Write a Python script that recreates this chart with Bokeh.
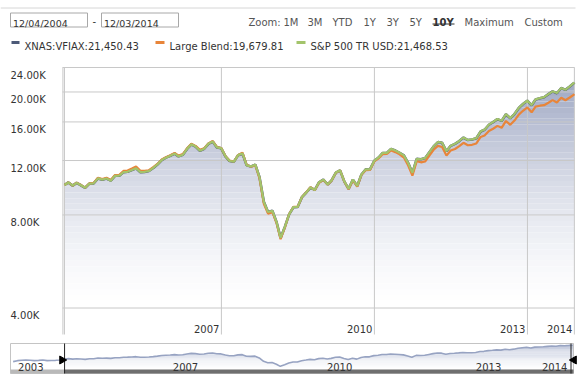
import numpy as np
import pandas as pd
from bokeh.plotting import figure
from bokeh.models import Range1d, LinearScale, LogScale
from bokeh.embed import file_html
from bokeh.resources import INLINE
from bokeh.core.properties import value

FONT = "DejaVu Sans"

# ---------------- data ----------------
start_date = "2004-12-03"
end_date = "2014-12-03"
month_ends = list(pd.date_range("2004-12-31", periods=120, freq=pd.offsets.MonthEnd()))
dates = [pd.Timestamp(start_date)] + month_ends + [pd.Timestamp(end_date)]

vfiax = [
    10000, 10192,
    9952, 10157, 9981, 9796, 10108, 10123, 10506, 10406, 10497, 10328, 10710, 10718,
    11011, 11034, 11176, 11332, 11001, 11021, 11096, 11352, 11651, 12039, 12258, 12434,
    12631, 12376, 12521, 13086, 13536, 13317, 12913, 13103, 13595, 13821, 13235, 13144,
    12361, 11953, 11901, 12490, 12644, 11577, 11484, 11643, 10604, 8823, 8177, 8255,
    7562, 6742, 7331, 8033, 8474, 8490, 9136, 9458, 9813, 9636, 10206, 10406,
    10038, 10342, 10970, 11151, 10255, 9719, 10406, 9929, 10817, 11235, 11229, 11983,
    12275, 12690, 12699, 13083, 12929, 12714, 12463, 11776, 10950, 12150, 12109, 12234,
    12789, 13332, 13773, 13693, 12858, 13390, 13582, 13874, 14235, 13977, 14041, 14165,
    14905, 15096, 15666, 15977, 16337, 16120, 16947, 16445, 16963, 17750, 18280, 18743,
    18108, 18921, 19085, 19237, 19675, 20085, 19816, 20599, 20314, 20821, 21370,
    21450]

large_blend = [
    10000, 10202,
    9962, 10177, 10001, 9806, 10128, 10163, 10559, 10458, 10560, 10380, 10774, 10793,
    11110, 11144, 11310, 11479, 11111, 11109, 11163, 11420, 11698, 12087, 12307, 12484,
    12694, 12450, 12596, 13138, 13590, 13384, 12990, 13155, 13636, 13876, 13275, 13170,
    12386, 11989, 11913, 12515, 12720, 11623, 11461, 11596, 10519, 8691, 8079, 8172,
    7509, 6681, 7294, 8057, 8491, 8498, 9145, 9477, 9842, 9626, 10165, 10396,
    10028, 10332, 10959, 11151, 10245, 9690, 10364, 9889, 10785, 11179, 11184, 11923,
    12189, 12576, 12597, 12939, 12774, 12561, 12276, 11564, 10720, 11943, 11843, 11928,
    12482, 12999, 13387, 13269, 12447, 12935, 13079, 13361, 13694, 13446, 13493, 13627,
    14309, 14462, 14961, 15210, 15536, 15314, 16117, 15656, 16166, 16898, 17384, 17825,
    17184, 17937, 18054, 18121, 18455, 18820, 18488, 19157, 18811, 19197, 19618,
    19680]

sp500 = [
    10000, 10192,
    9953, 10158, 9982, 9797, 10109, 10124, 10507, 10407, 10498, 10329, 10711, 10720,
    11013, 11036, 11178, 11334, 11003, 11023, 11098, 11354, 11654, 12042, 12261, 12437,
    12634, 12379, 12524, 13090, 13540, 13321, 12917, 13107, 13599, 13825, 13239, 13148,
    12365, 11957, 11905, 12494, 12649, 11581, 11488, 11647, 10608, 8826, 8180, 8258,
    7565, 6745, 7334, 8036, 8478, 8494, 9140, 9462, 9817, 9640, 10211, 10411,
    10043, 10347, 10975, 11157, 10261, 9725, 10412, 9935, 10823, 11242, 11236, 11990,
    12282, 12697, 12706, 13091, 12937, 12722, 12471, 11784, 10958, 12158, 12117, 12242,
    12798, 13341, 13782, 13703, 12868, 13400, 13592, 13884, 14245, 13987, 14051, 14175,
    14916, 15107, 15677, 15988, 16349, 16132, 16959, 16457, 16976, 17763, 18293, 18756,
    18122, 18935, 19100, 19252, 19691, 20101, 19832, 20616, 20331, 20838, 21388,
    21469]

# navigator history before the selected window (growth of 10K, VFIAX)
nav_pre_dates = list(pd.date_range("2003-11-30", periods=13, freq=pd.offsets.MonthEnd()))
nav_pre_values = [8686, 9143, 9317, 9447, 9309, 9168, 9295, 9478, 9169, 9206, 9309, 9455, 9837]

y_ticks = [4000, 8000, 12000, 16000, 20000, 24000]
y_tick_labels = ["4.00K", "8.00K", "12.00K", "16.00K", "20.00K", "24.00K"]
x_grid_dates = ["2008-01-01", "2011-01-01", "2014-01-01"]
x_tick_dates = ["2008-01-01", "2011-01-01", "2014-01-01", end_date]
x_tick_labels = ["2007", "2010", "2013", "2014"]
nav_label_dates = ["2004-07-05", "2007-07-20", "2010-07-30", "2013-07-03", "2014-10-20"]
nav_labels = ["2003", "2007", "2010", "2013", "2014"]

legend_names = ["XNAS:VFIAX:21,450.43", "Large Blend:19,679.81", "S&P 500 TR USD:21,468.53"]
colors = ["#4d5a78", "#e8853a", "#a3c46b"]

# ---------------- geometry (page pixels; bokeh page has no body margin) ----------------
W, H = 580, 388
PX0, PX1, PY0, PY1 = 0, W, 0, H
D = pd.Timedelta
t0, t1 = pd.Timestamp(start_date), pd.Timestamp(end_date)

# main plot: page x 62 <-> t0-14d, page x 574 <-> t1+1d
m_left, m_right = t0 - D(days=14), t1 + D(days=1)
dpp = (m_right - m_left) / (574 - 62)
x_start = m_left - dpp * (62 - PX0)
x_end = m_right + dpp * (PX1 - 574)
# log y: page 67 <-> 24000, page 307.5 <-> 4000
k = (307.5 - 67) / np.log(24000 / 4000)
y_top = 24000 * np.exp((67 - PY0) / k)
y_bot = 4000 * np.exp(-(PY1 - 307.5) / k)
v_bottom = 4000 * np.exp(-(334 - 307.5) / k)      # bottom edge of main plot area

# navigator: page x 10 <-> n_t0, page x 573 <-> t1 ; log y (21450 at page 344.3)
n_t0 = t0 - D(days=388)
ndpp = (t1 - n_t0) / (573 - 10)
nx_start = n_t0 - ndpp * (10 - PX0)
nx_end = t1 + ndpp * (PX1 - 573)
nk = 18.6
def nav_val(py):
    return 21450 * np.exp((344.3 - py) / nk)
ny_top, ny_bot = nav_val(PY0), nav_val(PY1)
nv_top, nv_bar = nav_val(343), nav_val(369)

p = figure(width=W, height=H, x_axis_type="datetime", y_axis_type="log",
           x_range=Range1d(x_start, x_end), y_range=Range1d(y_bot, y_top),
           x_axis_location=None, y_axis_location=None, min_border=0,
           output_backend="svg", toolbar_location=None)
p.outline_line_color = None
p.grid.visible = False
p.extra_x_ranges = {"px": Range1d(PX0, PX1), "navx": Range1d(nx_start, nx_end)}
p.extra_x_scales = {"px": LinearScale(), "navx": LinearScale()}
p.extra_y_ranges = {"py": Range1d(PY1, PY0), "navy": Range1d(ny_bot, ny_top)}
p.extra_y_scales = {"py": LinearScale(), "navy": LogScale()}

# ---------------- header ----------------
HD = dict(x_range_name="px", y_range_name="py")
p.segment(x0=[0], y0=[7.5], x1=[575], y1=[7.5], line_color="#d6d6d6", line_width=1, **HD)
p.quad(left=[10, 101], right=[87, 178], top=[12.5, 12.5], bottom=[26.5, 26.5],
       fill_color="white", line_color="#a8a8a8", line_width=1, **HD)
p.text(x=[12.5, 103.5], y=[23, 23], text=["12/04/2004", "12/03/2014"], text_font=value(FONT),
       text_font_size="9.5px", text_color="#333333", text_baseline="alphabetic", **HD)
p.text(x=[92], y=[20.5], text=["-"], text_font=value(FONT), text_font_size="10px",
       text_color="#333333", text_baseline="alphabetic", **HD)
zoom_x = [248, 283, 307, 332, 363, 386, 409, 464, 524]
zoom_t = ["Zoom:", "1M", "3M", "YTD", "1Y", "3Y", "5Y", "Maximum", "Custom"]
p.text(x=zoom_x, y=[21.5] * len(zoom_x), text=zoom_t, text_font=value(FONT),
       text_font_size="10px", text_color="#555555", text_baseline="alphabetic", **HD)
p.text(x=[432], y=[21.5], text=["10Y"], text_font=value(FONT), text_font_size="10px",
       text_font_style="bold", text_color="#333333", text_baseline="alphabetic", **HD)
p.segment(x0=[432], y0=[23.5], x1=[454], y1=[23.5], line_color="#333333", line_width=1, **HD)
p.quad(left=[11, 155, 296], right=[19, 164, 305], top=[40.5] * 3, bottom=[43.5] * 3,
       fill_color=colors, line_color=None, **HD)
p.text(x=[24, 169, 310], y=[45.7] * 3, text=legend_names, text_font=value(FONT),
       text_font_size="10px", text_color="#333333", text_baseline="alphabetic", **HD)

# ---------------- main chart ----------------
levels = np.geomspace(24000, v_bottom, 48)
c0 = np.array([150, 160, 190])
band_cols = []
for i in range(len(levels) - 1):
    tmid = np.log(24000 / np.sqrt(levels[i] * levels[i + 1])) / np.log(24000 / 4000)
    f = max(0.0, 1 - min(tmid, 1.0)) ** 1.5
    c = 255 - (255 - c0) * f
    band_cols.append("#%02x%02x%02x" % tuple(int(round(v)) for v in c))
nb = len(levels) - 1
p.quad(left=[t0] * nb, right=[t1] * nb, top=list(levels[:-1]), bottom=list(levels[1:]),
       fill_color=band_cols, line_color=None)
p.varea(x=dates, y1=vfiax, y2=[24000] * len(dates), fill_color="white")

grid_col = "#c8c8c8"
p.segment(x0=[m_left] * len(y_ticks), x1=[m_right] * len(y_ticks), y0=y_ticks, y1=y_ticks,
          line_color=grid_col, line_width=1)
vx = [t0 - D(days=11), t0] + [pd.Timestamp(d) for d in x_grid_dates] + [t1]
p.segment(x0=vx, x1=vx, y0=[v_bottom] * len(vx), y1=[24000] * len(vx),
          line_color=grid_col, line_width=1)

p.line(dates, vfiax, line_color=colors[0], line_width=2.6)
p.line(dates, large_blend, line_color=colors[1], line_width=2.2)
p.line(dates, sp500, line_color=colors[2], line_width=2.2)

p.text(x=[10] * len(y_ticks), y=y_ticks, text=y_tick_labels, x_range_name="px",
       text_font=value(FONT), text_font_size="10px", text_color="#333333",
       text_baseline="top", text_align="left", y_offset=2)
p.text(x=[pd.Timestamp(d) for d in x_tick_dates], y=[328.5] * len(x_tick_dates),
       text=x_tick_labels, y_range_name="py", text_font=value(FONT), text_font_size="10px",
       text_color="#333333", text_baseline="alphabetic", text_align="right", x_offset=-2)

# ---------------- navigator ----------------
NV = dict(x_range_name="navx", y_range_name="navy")
NP = dict(x_range_name="navx", y_range_name="py")
nav_dates = nav_pre_dates + dates[1:]
nav_vals = nav_pre_values + vfiax[1:]
nlev = np.geomspace(nv_top, nv_bar, 24)
ncols = []
for i in range(len(nlev) - 1):
    tt = (i + 0.5) / (len(nlev) - 1)
    c = 255 - (255 - np.array([185, 193, 215])) * (1 - tt) ** 1.3
    ncols.append("#%02x%02x%02x" % tuple(int(round(v)) for v in c))
nn = len(nlev) - 1
p.quad(left=[t0] * nn, right=[t1] * nn, top=list(nlev[:-1]), bottom=list(nlev[1:]),
       fill_color=ncols, line_color=None, **NV)
p.varea(x=dates, y1=vfiax, y2=[nv_top] * len(dates), fill_color="white", **NV)
p.line(nav_dates, nav_vals, line_color="#97a3c2", line_width=1.6, **NV)

p.quad(left=[10], right=[573], top=[343], bottom=[373], fill_alpha=0,
       line_color="#c4c4c4", line_width=1, **HD)
p.quad(left=[n_t0, t0], right=[t0, t1], top=[369] * 2, bottom=[373] * 2,
       fill_color=["#b9b9b9", "#6f6f6f"], line_color=None, **NP)
p.segment(x0=[t0, t1 - ndpp * 2.5], x1=[t0, t1 - ndpp * 2.5], y0=[343] * 2, y1=[373] * 2,
          line_color="#222222", line_width=1, **NP)
p.scatter(x=[t0 - ndpp * 2.5], y=[359.5], marker="triangle", size=8, angle=-np.pi / 2,
          fill_color="black", line_color="black", **NP)
p.scatter(x=[t1 + ndpp * 0.5], y=[359.5], marker="triangle", size=8, angle=np.pi / 2,
          fill_color="black", line_color="black", **NP)
p.text(x=[pd.Timestamp(d) for d in nav_label_dates], y=[366] * len(nav_labels), text=nav_labels,
       text_font=value(FONT), text_font_size="10px", text_color="#333333",
       text_baseline="alphabetic", text_align="right", **NP)

open("out.html", "w").write(file_html(p, INLINE))
